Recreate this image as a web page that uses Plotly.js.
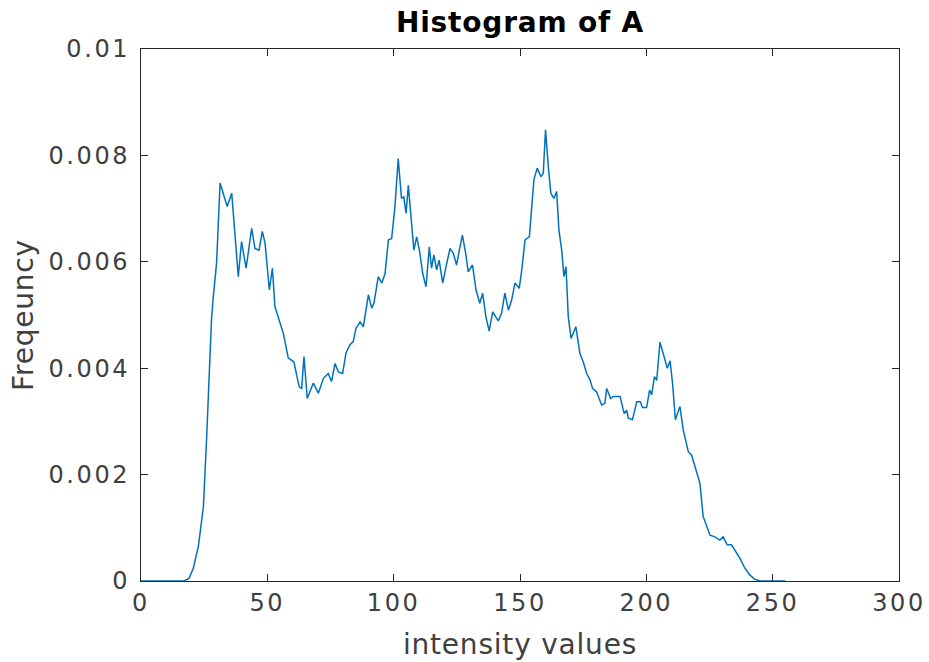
<!DOCTYPE html>
<html>
<head>
<meta charset="utf-8">
<script src="https://cdn.plot.ly/plotly-3.0.1.min.js"></script>
<style>
html,body{margin:0;padding:0;background:#fff;}
#chart .xtick text, #chart .ytick text { letter-spacing: 2.6px; }
#chart text.gtitle, #chart text.xtitle, #chart text.ytitle { letter-spacing: 0.8px; }
</style>
</head>
<body>
<div id="chart" style="width:929px;height:662px;"></div>
<script>
const intensity = [0,10,17,19,20.7,22.7,24.7,26.0,27.3,27.9,28.6,29.9,31.3,32.6,34.1,35.9,38.5,39.8,41.6,43.8,45.1,46.7,48.0,49.1,50.8,52.0,53.0,56.3,58.3,60.5,62.6,63.6,64.5,65.8,68.2,70.2,72.2,74.1,75.4,76.8,78.1,79.8,81.1,82.7,84.0,85.1,86.7,88.0,90.0,91.3,92.2,93.9,95.3,96.6,97.9,99.2,100.5,101.8,103.1,104.0,104.9,105.8,107.1,108.0,109.1,110.2,111.5,112.8,114.1,115.0,115.9,117.0,118.0,119.4,121.0,122.3,123.6,124.9,126.0,127.2,128.5,129.5,131.2,132.6,134.1,135.2,136.5,137.8,139.2,141.4,142.7,144.0,145.4,146.7,148.0,149.7,150.7,152.0,153.7,154.6,155.5,156.8,158.3,159.2,160.1,161.2,162.2,163.4,164.5,165.4,166.5,167.4,168.2,169.1,170.2,172.1,173.7,175.0,176.4,177.7,178.7,180.3,182.3,183.6,184.3,185.9,186.9,189.6,191.2,192.2,192.9,194.5,196.2,197.6,198.5,200.1,201.3,202.1,203.2,204.1,205.4,207.0,208.3,209.4,210.4,211.5,212.2,213.3,214.6,216.6,217.9,219.2,221.2,222.5,223.9,225.2,227.1,229.1,230.4,232.0,233.7,235.1,237.0,239.0,241.0,243.0,245,255];
const frequency = [0,0,0,0.00005,0.00024,0.00065,0.00140,0.00271,0.00422,0.00491,0.00534,0.00597,0.00748,0.00729,0.00704,0.00729,0.00572,0.00638,0.00588,0.00663,0.00625,0.00622,0.00657,0.00635,0.00547,0.00588,0.00516,0.00466,0.00419,0.00412,0.00365,0.00362,0.00422,0.00343,0.00372,0.00353,0.00381,0.00390,0.00375,0.00409,0.00393,0.00390,0.00428,0.00444,0.00450,0.00475,0.00487,0.00478,0.00538,0.00513,0.00522,0.00572,0.00560,0.00578,0.00641,0.00644,0.00704,0.00794,0.00719,0.00722,0.00691,0.00744,0.00666,0.00622,0.00647,0.00622,0.00578,0.00553,0.00628,0.00588,0.00613,0.00585,0.00603,0.00560,0.00597,0.00625,0.00616,0.00594,0.00622,0.00650,0.00616,0.00581,0.00594,0.00547,0.00522,0.00541,0.00497,0.00470,0.00506,0.00489,0.00503,0.00541,0.00509,0.00528,0.00560,0.00550,0.00585,0.00641,0.00647,0.00697,0.00754,0.00776,0.00760,0.00766,0.00848,0.00779,0.00729,0.00719,0.00732,0.00660,0.00622,0.00572,0.00591,0.00497,0.00456,0.00478,0.00428,0.00412,0.00390,0.00378,0.00362,0.00356,0.00331,0.00334,0.00362,0.00343,0.00347,0.00347,0.00315,0.00321,0.00306,0.00303,0.00337,0.00337,0.00326,0.00326,0.00359,0.00350,0.00384,0.00377,0.00449,0.00422,0.00400,0.00414,0.00370,0.00303,0.00312,0.00328,0.00284,0.00243,0.00237,0.00215,0.00184,0.00121,0.00102,0.00086,0.00083,0.00077,0.00083,0.00068,0.00068,0.00058,0.00043,0.00024,0.00011,0.00003,0,0];
const xTicks = [0,50,100,150,200,250,300];
const yTicks = [0,0.002,0.004,0.006,0.008,0.01];
const yTickLabels = ['0','0.002','0.004','0.006','0.008','0.01'];

const axisColor = '#262626';
const textColor = '#404040';
const font = 'DejaVu Sans, sans-serif';

const data = [{
  x: intensity, y: frequency, type: 'scatter', mode: 'lines',
  line: {color: '#0072BD', width: 1.5}, hoverinfo: 'skip'
}];
const layout = {
  width: 929, height: 662,
  margin: {l: 141, r: 30, t: 49, b: 81, pad: 0},
  paper_bgcolor: '#fff', plot_bgcolor: '#fff',
  showlegend: false,
  title: {text: 'Histogram of A', font: {family: font, size: 28, color: '#000', weight: 'bold'}, xref: 'paper', x: 0.5, xanchor: 'center', y: 0.967, yanchor: 'middle'},
  xaxis: {
    range: [0, 300], tickvals: xTicks, ticktext: xTicks.map(String),
    ticks: 'inside', ticklen: 7, tickwidth: 1, tickcolor: axisColor,
    showline: true, linecolor: axisColor, linewidth: 1, mirror: 'ticks',
    showgrid: false, zeroline: false,
    tickfont: {family: font, size: 24, color: textColor},
    title: {text: 'intensity values', font: {family: font, size: 28, color: textColor}, standoff: 18},
    automargin: false
  },
  yaxis: {
    range: [0, 0.01], tickvals: yTicks, ticktext: yTickLabels,
    ticks: 'inside', ticklen: 7, tickwidth: 1, tickcolor: axisColor,
    showline: true, linecolor: axisColor, linewidth: 1, mirror: 'ticks',
    showgrid: false, zeroline: false,
    tickfont: {family: font, size: 24, color: textColor},
    ticklabelstandoff: 5,
    title: {text: 'Freqeuncy', font: {family: font, size: 28, color: textColor}, standoff: 19},
    automargin: false
  }
};
Plotly.newPlot('chart', data, layout, {displayModeBar: false, staticPlot: true});
</script>
</body>
</html>
